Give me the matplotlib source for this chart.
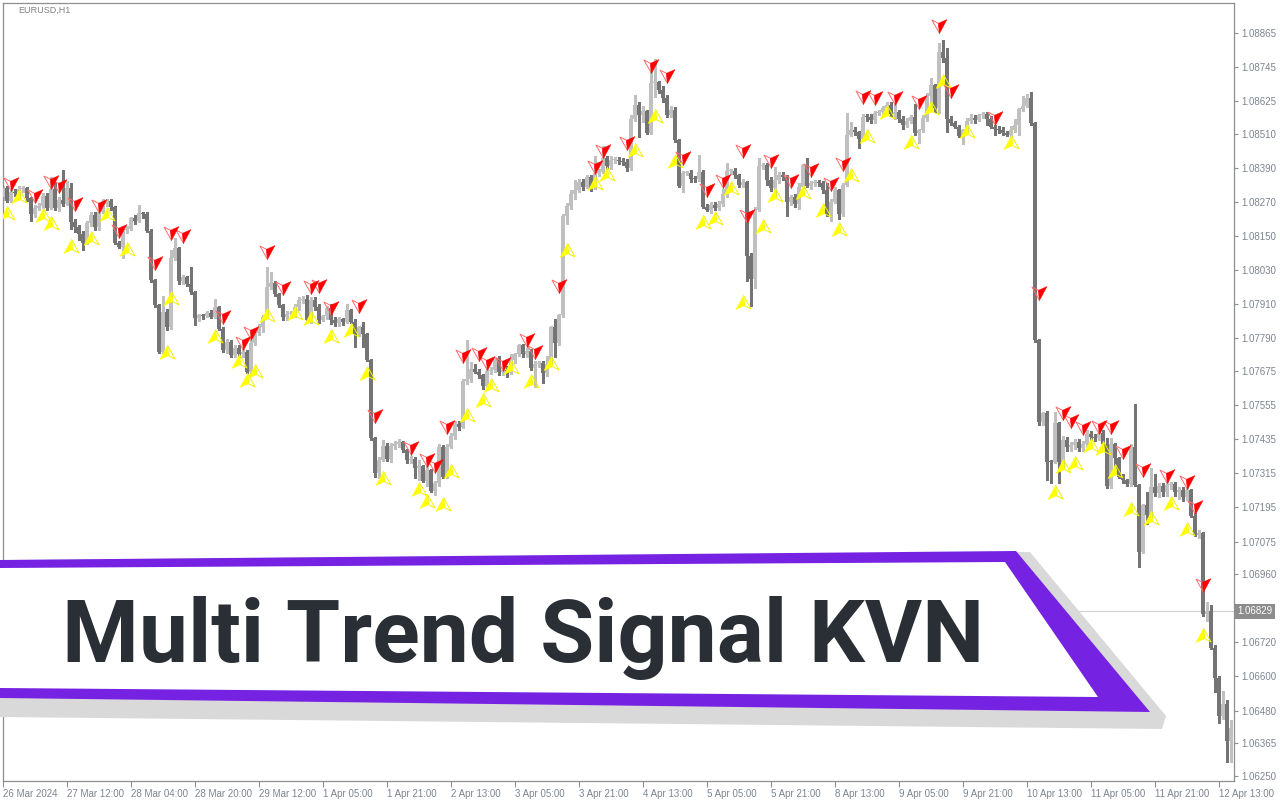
import matplotlib
matplotlib.use("Agg")
import matplotlib.pyplot as plt
import numpy as np
from matplotlib.path import Path
from matplotlib.patches import Polygon
import matplotlib.transforms as mtransforms

# ---------------- data ----------------
symbol_label = "EURUSD,H1"
title_text = "Multi Trend Signal KVN"
current_price = 1.06829
first_open = 1.08289

closes = [
    1.08318, 1.08275, 1.08306, 1.08303, 1.08316, 1.08318, 1.08283, 1.08227, 1.08251, 1.08256,
    1.08291, 1.08251, 1.08315, 1.08248, 1.08277, 1.08265, 1.08318, 1.08199, 1.08181, 1.08157,
    1.08127, 1.08195, 1.08224, 1.08181, 1.08236, 1.08265, 1.08275, 1.08253, 1.08127, 1.08113,
    1.08171, 1.08176, 1.08213, 1.08204, 1.08230, 1.08229, 1.08169, 1.07995, 1.07907, 1.07743,
    1.07884, 1.07829, 1.08072, 1.08107, 1.07993, 1.08005, 1.07981, 1.07952, 1.07863, 1.07872,
    1.07869, 1.07880, 1.07866, 1.07899, 1.07825, 1.07749, 1.07778, 1.07731, 1.07757, 1.07735,
    1.07743, 1.07673, 1.07773, 1.07808, 1.07831, 1.07866, 1.07970, 1.07984, 1.07946, 1.07907,
    1.07866, 1.07876, 1.07877, 1.07901, 1.07925, 1.07928, 1.07855, 1.07925, 1.07901, 1.07855,
    1.07869, 1.07896, 1.07855, 1.07843, 1.07857, 1.07849, 1.07890, 1.07849, 1.07805, 1.07829,
    1.07805, 1.07714, 1.07438, 1.07317, 1.07362, 1.07411, 1.07364, 1.07411, 1.07418, 1.07425,
    1.07397, 1.07362, 1.07366, 1.07333, 1.07341, 1.07289, 1.07327, 1.07254, 1.07282, 1.07409,
    1.07303, 1.07409, 1.07446, 1.07489, 1.07479, 1.07641, 1.07646, 1.07681, 1.07673, 1.07661,
    1.07622, 1.07676, 1.07678, 1.07720, 1.07673, 1.07679, 1.07669, 1.07714, 1.07735, 1.07767,
    1.07735, 1.07747, 1.07685, 1.07700, 1.07702, 1.07667, 1.07700, 1.07829, 1.07773, 1.07872,
    1.08222, 1.08257, 1.08297, 1.08312, 1.08341, 1.08324, 1.08359, 1.08320, 1.08371, 1.08377,
    1.08424, 1.08398, 1.08418, 1.08419, 1.08414, 1.08411, 1.08389, 1.08562, 1.08611, 1.08576,
    1.08590, 1.08514, 1.08691, 1.08693, 1.08664, 1.08637, 1.08576, 1.08594, 1.08488, 1.08327,
    1.08371, 1.08373, 1.08351, 1.08350, 1.08377, 1.08253, 1.08242, 1.08259, 1.08251, 1.08263,
    1.08297, 1.08379, 1.08381, 1.08365, 1.08332, 1.08341, 1.08081, 1.07999, 1.08242, 1.08397,
    1.08399, 1.08347, 1.08320, 1.08347, 1.08365, 1.08359, 1.08271, 1.08289, 1.08262, 1.08324,
    1.08400, 1.08327, 1.08336, 1.08338, 1.08336, 1.08312, 1.08227, 1.08271, 1.08312, 1.08227,
    1.08332, 1.08508, 1.08523, 1.08517, 1.08492, 1.08570, 1.08569, 1.08559, 1.08582, 1.08588,
    1.08600, 1.08611, 1.08579, 1.08586, 1.08562, 1.08543, 1.08555, 1.08570, 1.08512, 1.08523,
    1.08565, 1.08644, 1.08682, 1.08602, 1.08799, 1.08778, 1.08562, 1.08547, 1.08535, 1.08503,
    1.08523, 1.08555, 1.08565, 1.08559, 1.08576, 1.08579, 1.08562, 1.08535, 1.08527, 1.08523,
    1.08515, 1.08508, 1.08523, 1.08543, 1.08597, 1.08609, 1.08637, 1.08547, 1.07784, 1.07497,
    1.07526, 1.07356, 1.07355, 1.07491, 1.07356, 1.07432, 1.07409, 1.07415, 1.07426, 1.07403,
    1.07418, 1.07453, 1.07444, 1.07438, 1.07456, 1.07418, 1.07270, 1.07418, 1.07368, 1.07303,
    1.07291, 1.07277, 1.07409, 1.07274, 1.07039, 1.07203, 1.07168, 1.07268, 1.07247, 1.07270,
    1.07250, 1.07274, 1.07276, 1.07250, 1.07256, 1.07233, 1.07256, 1.07165, 1.07098, 1.07105,
    1.06819, 1.06831, 1.06701, 1.06595, 1.06461, 1.06503, 1.06374, 1.06418,
]

upper_wick_pips = [
    1, 1, 1, 1, 1, 1, 0.5, 0.5, 1, 1,
    1, 1, 4.5, 2.5, 1, 10.5, 2.5, 2, 1, 1,
    1, 1, 1, 1, 1, 1.5, 0.5, 0.5, 0.5, 0.5,
    0.5, 1, 0.5, 1, 3, 0.5, 0.5, 0.5, 0.5, 0.5,
    5.5, 1, 3, 3.5, 0.5, 1, 0.5, 6, 0.5, 0.5,
    0.5, 0.5, 1, 3, 0.5, 0.5, 1, 0.5, 1, 1,
    1, 0.5, 1, 0.5, 1, 0.5, 7, 4, 1, 0.5,
    0.5, 1, 1, 1, 1, 1, 1.5, 1, 1, 1,
    0.5, 1, 1.5, 1, 1, 0.5, 2, 0.5, 1, 0.5,
    2, 0.5, 0.5, 0.5, 1, 2, 1, 1, 1, 1,
    0.5, 0.5, 1, 0.5, 2, 0.5, 3, 0.5, 0.5, 1,
    0.5, 1, 1, 1, 1, 0.5, 14, 2.5, 2, 1,
    0.5, 1.5, 1, 0.5, 1, 1, 1.5, 2, 0.5, 0.5,
    0.5, 1, 0.5, 1, 1, 1, 3, 0.5, 3, 0.5,
    0.5, 1, 1.5, 3.5, 1, 1, 0.5, 0.5, 6, 1,
    4.5, 1, 1.5, 1, 1, 1, 1, 1.5, 3.5, 1,
    2, 0.5, 5, 8, 0.5, 1.5, 1, 1.5, 1, 0.5,
    1, 0.5, 1, 1, 6, 0.5, 1, 1, 1, 1,
    2, 3, 0.5, 1, 0.5, 1, 0.5, 1, 1, 3,
    1, 1, 1, 4.5, 1, 1, 0.5, 0.5, 1, 1.5,
    0.5, 2.5, 1, 1, 1, 1, 2.5, 1, 1, 0.5,
    0.5, 7.5, 3, 1, 0.5, 1, 1, 1, 1, 0.5,
    1, 1, 1, 3, 1, 1, 1, 0.5, 4.5, 0.5,
    1, 1, 2.5, 0.5, 3, 4, 3.5, 1, 1, 0.5,
    0.5, 1, 1.5, 1, 0.5, 1, 1, 1, 0.5, 1,
    1, 0.5, 1.5, 2, 0.5, 3.5, 1.5, 2, 0.5, 0.5,
    0.5, 1, 0.5, 4, 0.5, 1.5, 1, 1, 1, 1,
    1, 1.5, 1, 1, 1, 1, 2, 2, 0.5, 0.5,
    1, 0.5, 1, 15, 0.5, 0.5, 4.5, 6.5, 4.5, 1,
    1, 2, 1, 1, 1, 1, 1, 0.5, 1, 1,
    0.5, 3, 2, 1, 0.5, 4.5, 1.5, 3,
]

lower_wick_pips = [
    1, 0.5, 0.5, 1, 1.5, 1, 1, 2.5, 1, 1,
    0.5, 1, 0.5, 0.5, 1, 1, 0.5, 2.5, 1.5, 2,
    2.5, 0.5, 1, 1, 1, 0.5, 1, 1, 0.5, 0.5,
    4, 1, 0.5, 1, 0.5, 1.5, 0.5, 0.5, 0.5, 0.5,
    0.5, 1, 0.5, 0.5, 1, 1, 0.5, 0.5, 2.5, 1,
    1, 0.5, 0.5, 0.5, 0.5, 0.5, 1, 0.5, 0.5, 1,
    1, 0.5, 0.5, 0.5, 0.5, 2, 0.5, 0.5, 0.5, 0.5,
    1, 1, 1, 1, 1, 1, 0.5, 1, 1, 1,
    0.5, 1, 1.5, 1, 1, 1, 0.5, 0.5, 4.5, 0.5,
    4.5, 0.5, 0.5, 1.5, 2, 0.5, 0.5, 1, 1, 1,
    0.5, 1, 1, 3.5, 4, 0.5, 2, 0.5, 1.5, 1,
    0.5, 0.5, 0.5, 1, 1, 0.5, 1, 1, 0.5, 1,
    1, 1, 1, 0.5, 1, 1, 1.5, 0.5, 1, 0.5,
    1, 1, 0.5, 6.5, 1, 3.5, 1, 0.5, 5, 0.5,
    0.5, 3, 1, 1.5, 0.5, 1, 0.5, 1, 0.5, 1,
    0.5, 1, 1, 1, 1, 1, 1, 0.5, 0.5, 7.5,
    2.5, 0.5, 0.5, 5, 1, 1.5, 0.5, 0.5, 0.5, 0.5,
    2, 0.5, 1, 1, 0.5, 0.5, 0.5, 1, 1, 1,
    0.5, 1, 1, 1, 1, 1, 9, 9.5, 3, 0.5,
    1, 1.5, 1, 2.5, 1, 1, 5, 1, 1, 1.5,
    0.5, 0.5, 1, 1, 1, 1, 0.5, 2.5, 0.5, 1.5,
    0.5, 0.5, 0.5, 1, 3, 0.5, 1.5, 1, 1, 0.5,
    1, 2, 0.5, 1.5, 1, 1.5, 1, 0.5, 0.5, 3.5,
    0.5, 1, 4.5, 1.5, 2, 1.5, 4.5, 0.5, 0.5, 0.5,
    3, 0.5, 0.5, 1, 0.5, 1, 2, 0.5, 2, 1,
    1, 0.5, 1, 0.5, 3.5, 0.5, 0.5, 0.5, 0.5, 1,
    1, 6.5, 7.5, 0.5, 7.5, 1, 1.5, 1.5, 1.5, 1,
    1, 1, 1, 1, 0.5, 1, 0.5, 0.5, 3.5, 0.5,
    1, 0.5, 0.5, 0.5, 5.5, 0.5, 3, 0.5, 1, 1.5,
    1.5, 1.5, 1.5, 1.5, 2.5, 1.5, 1, 0.5, 0.5, 1,
    0.5, 2.5, 0.5, 5, 2.5, 1, 7.5, 7.5,
]

sell_arrow_bars = [2, 8, 12, 14, 18, 24, 29, 38, 42, 45,
                   55, 60, 62, 66, 70, 77, 79, 82, 89, 93,
                   102, 106, 108, 111, 115, 119, 121, 125, 131, 133,
                   139, 148, 150, 156, 162, 166, 170, 176, 180, 185,
                   186, 192, 197, 202, 207, 210, 215, 218, 223, 229,
                   234, 237, 248, 259, 265, 267, 270, 274, 277, 280,
                   285, 291, 296, 298, 300]
sell_arrow_prices = [1.08333, 1.08291, 1.08340, 1.08326, 1.08263, 1.08256, 1.08168, 1.08055, 1.08161, 1.08150,
                     1.07865, 1.07774, 1.07809, 1.08094, 1.07967, 1.07971, 1.07974, 1.07897, 1.07904, 1.07517,
                     1.07404, 1.07362, 1.07341, 1.07478, 1.07728, 1.07735, 1.07703, 1.07700, 1.07784, 1.07742,
                     1.07974, 1.08393, 1.08449, 1.08478, 1.08749, 1.08713, 1.08425, 1.08312, 1.08344, 1.08449,
                     1.08221, 1.08414, 1.08344, 1.08383, 1.08333, 1.08404, 1.08640, 1.08636, 1.08636, 1.08622,
                     1.08889, 1.08661, 1.08566, 1.07950, 1.07527, 1.07499, 1.07474, 1.07478, 1.07478, 1.07390,
                     1.07327, 1.07305, 1.07284, 1.07196, 1.06922]

buy_arrow_bars = [1, 4, 10, 12, 17, 22, 26, 31, 41, 42,
                  53, 59, 61, 63, 66, 73, 77, 82, 87, 91,
                  95, 104, 106, 110, 112, 116, 120, 122, 127, 132,
                  137, 141, 148, 151, 158, 163, 168, 175, 178, 182,
                  185, 190, 193, 200, 205, 209, 212, 216, 221, 227,
                  232, 235, 241, 252, 263, 265, 268, 272, 275, 278,
                  282, 287, 292, 296, 300]
buy_arrow_prices = [1.08231, 1.08291, 1.08224, 1.08196, 1.08115, 1.08143, 1.08228, 1.08105, 1.07742, 1.07932,
                    1.07798, 1.07710, 1.07643, 1.07675, 1.07872, 1.07879, 1.07862, 1.07798, 1.07819, 1.07668,
                    1.07298, 1.07260, 1.07217, 1.07207, 1.07323, 1.07520, 1.07573, 1.07626, 1.07689, 1.07640,
                    1.07703, 1.08101, 1.08337, 1.08369, 1.08453, 1.08573, 1.08414, 1.08200, 1.08214, 1.08319,
                    1.07918, 1.08185, 1.08295, 1.08305, 1.08242, 1.08175, 1.08365, 1.08502, 1.08587, 1.08481,
                    1.08601, 1.08696, 1.08520, 1.08481, 1.07249, 1.07341, 1.07351, 1.07415, 1.07404, 1.07323,
                    1.07189, 1.07158, 1.07210, 1.07119, 1.06746]

price_ticks = [1.08865, 1.08745, 1.08625, 1.08510, 1.08390, 1.08270, 1.08150, 1.08030,
               1.07910, 1.07790, 1.07675, 1.07555, 1.07435, 1.07315, 1.07195, 1.07075,
               1.06960, 1.06720, 1.06600, 1.06480, 1.06365, 1.06250]
time_tick_bars = [0, 16, 32, 48, 64, 80, 96, 112, 128, 144, 160, 176, 192, 208, 224, 240, 256, 272, 288]
time_tick_labels = ["26 Mar 2024", "27 Mar 12:00", "28 Mar 04:00", "28 Mar 20:00", "29 Mar 12:00",
                    "1 Apr 05:00", "1 Apr 21:00", "2 Apr 13:00", "3 Apr 05:00", "3 Apr 21:00",
                    "4 Apr 13:00", "5 Apr 05:00", "5 Apr 21:00", "8 Apr 13:00", "9 Apr 05:00",
                    "9 Apr 21:00", "10 Apr 13:00", "11 Apr 05:00", "11 Apr 21:00", "12 Apr 13:00"]

# ---------------- derived candle arrays ----------------
c = np.array(closes)
o = np.array([first_open] + closes[:-1])
pip = 0.0001
h = np.maximum(o, c) + np.array(upper_wick_pips) * pip
l = np.minimum(o, c) - np.array(lower_wick_pips) * pip
n = len(c)
x = np.arange(n)
bull = c >= o

W, H = 1280, 800
fig = plt.figure(figsize=(12.8, 8), dpi=100)
fig.patch.set_facecolor("white")
ax = fig.add_axes([3 / W, 19 / H, 1231 / W, 778 / H])
ax.set_facecolor("white")

col_bull = "#c0c0c0"
col_bear = "#747474"
colors = np.where(bull, col_bull, col_bear)

ax.axhline(current_price, color="#cfcfcf", lw=0.8, zorder=1)
ax.vlines(x, l, h, colors=colors, lw=1.0, zorder=2, antialiased=False)
body_h = np.maximum(np.abs(c - o), 0.000036)
ax.bar(x, body_h, bottom=np.minimum(o, c), width=0.76, color=colors, linewidth=0,
       zorder=3, antialiased=False)

# ---- arrow markers ----
r_fill = Path([(-1.0, 3.0), (7.0, 6.5), (0.0, -6.5), (-1.0, 3.0)],
              [Path.MOVETO, Path.LINETO, Path.LINETO, Path.CLOSEPOLY])
r_out = Path([(-7.0, 6.0), (-1.0, 3.0), (0.0, -6.5), (-7.0, 6.0)],
             [Path.MOVETO, Path.LINETO, Path.LINETO, Path.CLOSEPOLY])
y_fill = Path([(0.0, 6.5), (-7.0, -6.5), (1.0, -3.0), (0.0, 6.5)],
              [Path.MOVETO, Path.LINETO, Path.LINETO, Path.CLOSEPOLY])
y_out = Path([(0.0, 6.5), (1.0, -3.0), (7.0, -6.0), (0.0, 6.5)],
             [Path.MOVETO, Path.LINETO, Path.LINETO, Path.CLOSEPOLY])
ms = 15 * 0.72
ax.plot(sell_arrow_bars, sell_arrow_prices, linestyle="none", marker=r_out, markersize=ms,
        markerfacecolor="none", markeredgecolor="#ff6b6b", markeredgewidth=0.7, zorder=5)
ax.plot(sell_arrow_bars, sell_arrow_prices, linestyle="none", marker=r_fill, markersize=ms,
        markerfacecolor="#ff0000", markeredgecolor="#ff0000", markeredgewidth=0.3, zorder=6)
ax.plot(buy_arrow_bars, buy_arrow_prices, linestyle="none", marker=y_out, markersize=ms,
        markerfacecolor="none", markeredgecolor="#f0f000", markeredgewidth=0.7, zorder=5)
ax.plot(buy_arrow_bars, buy_arrow_prices, linestyle="none", marker=y_fill, markersize=ms,
        markerfacecolor="#ffff00", markeredgecolor="#ffff00", markeredgewidth=0.3, zorder=6)

ax.set_xlim(0, 307.75)
ax.set_ylim(1.06232, 1.08971)

for sp in ax.spines.values():
    sp.set_color("#8f8f8f")
    sp.set_linewidth(0.9)

tick_col = "#7d8591"
ax.yaxis.tick_right()
ax.set_yticks(price_ticks)
ax.set_yticklabels(["%.5f" % p for p in price_ticks])
ax.tick_params(axis="y", direction="out", length=3, width=0.8, color="#8f8f8f", pad=2,
               labelsize=7, labelcolor=tick_col)
ax.set_xticks(time_tick_bars + [time_tick_bars[-1] + 16])
ax.set_xticklabels(time_tick_labels)
ax.tick_params(axis="x", direction="out", length=4, width=0.8, color="#8f8f8f", pad=1.5,
               labelsize=7, labelcolor=tick_col)
for lab in ax.get_xticklabels():
    lab.set_horizontalalignment("left")
for lab in ax.get_xticklabels() + ax.get_yticklabels():
    lab.set_fontfamily("Liberation Sans")

# current price label box
ax.text(1.0025, current_price, "%.5f" % current_price, transform=ax.get_yaxis_transform(),
        ha="left", va="center", fontsize=7, color="white", family="Liberation Sans",
        bbox=dict(boxstyle="square,pad=0.25", facecolor="#8c8c8c", edgecolor="none"),
        zorder=10, clip_on=False)

fig.text(18 / W, 1 - 10 / H, symbol_label, fontsize=6.5, color="#808080", va="center",
         ha="left", family="Liberation Sans")

# ---------------- banner overlay ----------------
pix = mtransforms.Affine2D().scale(1 / W, -1 / H).translate(0, 1) + fig.transFigure
shadow = Polygon([(0, 560), (1030, 552), (1166, 716), (1162, 729), (0, 717)], closed=True,
                 transform=pix, facecolor="#d9d9d9", edgecolor="none", zorder=20)
purple = Polygon([(0, 560), (1016, 551), (1150, 712), (0, 698)], closed=True,
                 transform=pix, facecolor="#7622e2", edgecolor="none", zorder=21)
white = Polygon([(0, 568), (1005, 562), (1098, 697), (0, 688)], closed=True,
                transform=pix, facecolor="white", edgecolor="none", zorder=22)
for p in (shadow, purple, white):
    p.set_clip_on(False)
    fig.patches.append(p)

fig.text(62, 662, title_text, transform=pix, ha="left", va="baseline",
         fontsize=63.2, fontweight="bold", family="Roboto", color="#2a2e35", zorder=30)

fig.savefig("out.png", dpi=100)
